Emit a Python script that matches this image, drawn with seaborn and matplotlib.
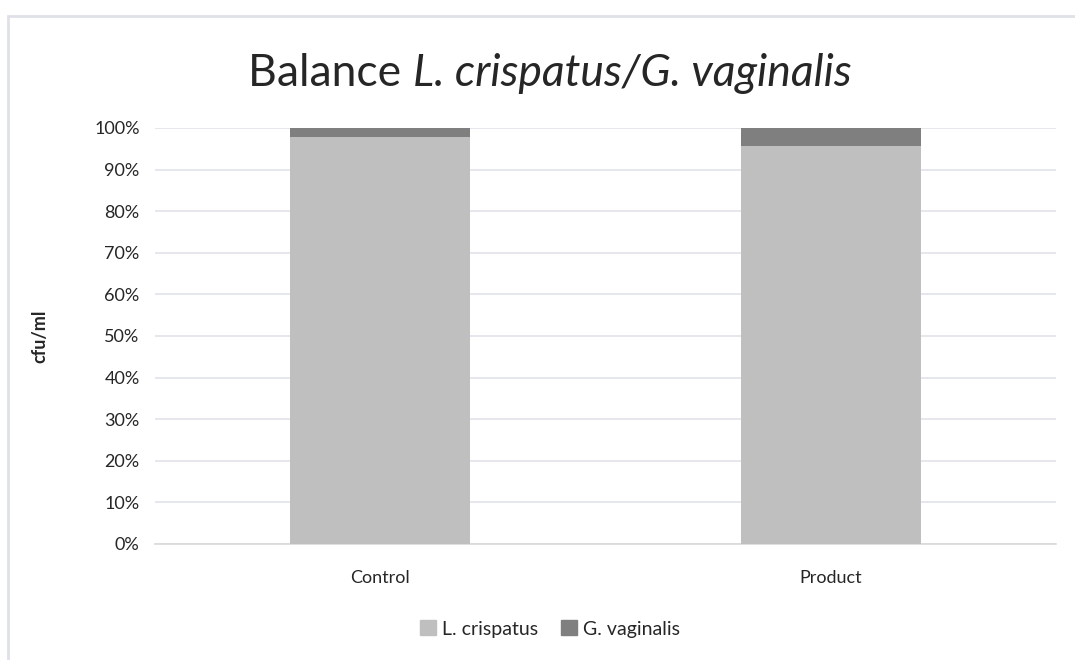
import matplotlib
matplotlib.use("Agg")
import matplotlib.pyplot as plt
import matplotlib.patches as mpatches
from matplotlib.ticker import PercentFormatter
import pandas as pd
import seaborn as sns

# ----------------------------
# Data (share of cfu/ml, %)
# ----------------------------
groups = ["Control", "Product"]
l_crispatus = [97.8, 95.7]
g_vaginalis = [2.2, 4.3]

LIGHT = "#bfbfbf"
DARK = "#7f7f7f"
TXT = "#262626"

sns.set_theme(style="white")
plt.rcParams["font.family"] = ["Lato", "DejaVu Sans"]

df = pd.DataFrame({"group": groups, "L. crispatus": l_crispatus,
                   "G. vaginalis": g_vaginalis})
df["total"] = df["L. crispatus"] + df["G. vaginalis"]

fig = plt.figure(figsize=(10.75, 6.6), dpi=100)
ax = fig.add_axes([155 / 1075, 1 - 544 / 660, 901 / 1075, 416 / 660])

# stacked bars: draw total first, then bottom segment on top
sns.barplot(data=df, x="group", y="total", color=DARK, width=0.4,
            saturation=1, linewidth=0, ax=ax, zorder=3)
sns.barplot(data=df, x="group", y="L. crispatus", color=LIGHT, width=0.4,
            saturation=1, linewidth=0, ax=ax, zorder=3)

ax.set_ylim(0, 100)
ax.set_xlim(-0.5, 1.5)
ax.set_yticks(range(0, 101, 10))
ax.yaxis.set_major_formatter(PercentFormatter(decimals=0))
ax.grid(axis="y", color="#e1e3ea", linewidth=1.2, zorder=0)
ax.set_axisbelow(True)
for s in ["left", "right", "top"]:
    ax.spines[s].set_visible(False)
ax.spines["bottom"].set_color("#d9d9d9")
ax.spines["bottom"].set_linewidth(1.2)
ax.tick_params(axis="both", length=0, labelsize=13, colors=TXT)
ax.tick_params(axis="y", pad=11)
ax.tick_params(axis="x", pad=19)
ax.set_xlabel("")
ax.set_ylabel("cfu/ml", fontsize=13, fontweight="bold", color=TXT,
              labelpad=33)

# title: plain + italic part, centred together
ty = 1 - 74 / 660
t1 = fig.text(0, ty, "Balance ", ha="left", va="center", fontsize=32,
              color=TXT)
t2 = fig.text(0, ty, "L. crispatus/G. vaginalis", ha="left", va="center",
              fontsize=32, style="italic", color=TXT)
fig.canvas.draw()
r = fig.canvas.get_renderer()
w1 = t1.get_window_extent(r).width / fig.bbox.width
w2 = t2.get_window_extent(r).width / fig.bbox.width
x0 = 550 / 1075 - (w1 + w2) / 2
t1.set_x(x0)
t2.set_x(x0 + w1)

handles = [mpatches.Patch(color=LIGHT, label="L. crispatus"),
           mpatches.Patch(color=DARK, label="G. vaginalis")]
fig.legend(handles=handles, loc="center", bbox_to_anchor=(550 / 1075, 1 - 629 / 660),
           ncol=2, frameon=False, fontsize=14, handlelength=0.8,
           handleheight=0.8, handletextpad=0.3, columnspacing=1.2,
           labelcolor=TXT)

# light chart border
fig.patches.append(mpatches.Rectangle((8 / 1075, -0.1), 1.2, 1.1 - 16 / 660,
                                      transform=fig.transFigure, fill=False,
                                      edgecolor="#dfe1e8", linewidth=2))

fig.savefig("out.png", dpi=100)
